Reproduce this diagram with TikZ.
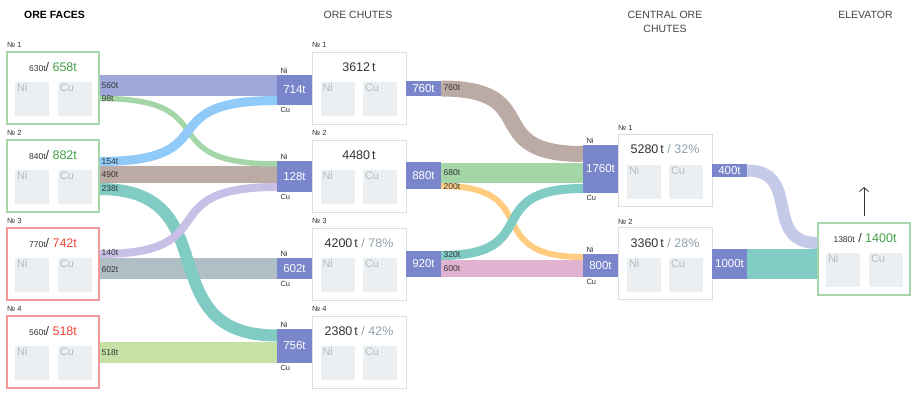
\documentclass[tikz,border=0pt]{standalone}
\usepackage{fontspec}
\setmainfont{Liberation Sans}
\usetikzlibrary{arrows.meta}

\definecolor{ink}{HTML}{333333}
\definecolor{headgray}{HTML}{444444}
\definecolor{gateblue}{HTML}{7986CB}
\definecolor{okline}{HTML}{A5D6A7}
\definecolor{oktext}{HTML}{43A047}
\definecolor{badline}{HTML}{EF9A9A}
\definecolor{badtext}{HTML}{F44336}
\definecolor{boxline}{HTML}{DDDDDD}
\definecolor{cellgray}{HTML}{ECEFF1}
\definecolor{celltext}{HTML}{B0BEC5}
\definecolor{pctgray}{HTML}{90A4AE}
\definecolor{b560}{HTML}{9FA8DA}
\definecolor{b98}{HTML}{A5D6A7}
\definecolor{b154}{HTML}{90CAF9}
\definecolor{b490}{HTML}{BCAAA4}
\definecolor{b238}{HTML}{80CBC4}
\definecolor{b140}{HTML}{C8BFE7}
\definecolor{b602}{HTML}{B0BEC5}
\definecolor{b518}{HTML}{C5E1A5}
\definecolor{b200}{HTML}{FFCC80}
\definecolor{b600}{HTML}{E1B3D1}
\definecolor{b400}{HTML}{C5CAE9}

\newcommand{\pxfont}[1]{\fontsize{#1}{#1}\selectfont}

\tikzset{
  head/.style={font=\fontsize{10.5}{14}\selectfont, text=headgray, align=center, inner sep=0pt},
  facebox/.style={draw=#1, line width=1.5pt, minimum width=92pt, minimum height=72pt, inner sep=0pt},
  chutebox/.style={draw=boxline, line width=0.8pt, minimum width=94pt, minimum height=72pt, inner sep=0pt},
  boxno/.style={anchor=west, font=\pxfont{7.5}, text=ink, inner sep=0pt},
  total/.style={font=\pxfont{12.5}, text=ink, inner sep=0pt},
  cell/.style={fill=cellgray, minimum width=34pt, minimum height=34pt, inner sep=0pt,
    label={[anchor=north west, inner sep=2pt, text=celltext, font=\pxfont{11}]north west:#1}},
  gate/.style={fill=gateblue, text=white, font=\pxfont{11.5}, minimum width=35pt, minimum height=#1, inner sep=0pt},
  side/.style={font=\pxfont{7.5}, text=ink, inner sep=1.5pt, xshift=2pt},
  inlet/.style={gate=#1, label={[side, anchor=south west]north west:Ni}, label={[side, anchor=north west]south west:Cu}},
  band/.style={line width=#1},
  flowlab/.style={anchor=west, font=\pxfont{8.5}, text=ink, inner sep=0pt}
}

\begin{document}
\begin{tikzpicture}[x=1pt,y=-1pt]
\useasboundingbox (0,0) rectangle (916,396);
\fill[white] (0,0) rectangle (916,396);

% column heads
\node[head, text=black, font=\bfseries\pxfont{10.5}] (hfaces) at (54.5,15) {ORE FACES};
\node[head] (hchutes) at (358,15) {ORE CHUTES};
\node[head] (hcentral) at (665,22) {CENTRAL ORE\\CHUTES};
\node[head] (helev) at (865.5,15) {ELEVATOR};

% ore faces
\node[facebox=okline] (f1) at (53,88) {};
\node[boxno] (f1no) at (7,45) {№ 1};
\node[total] (f1sum) at (53,67) {{\pxfont{8.5}630t}/ {\color{oktext}658t}};
\node[cell=Ni] (f1ni) at (32,99) {};
\node[cell=Cu] (f1cu) at (75,99) {};

\node[facebox=okline] (f2) at (53,176) {};
\node[boxno] (f2no) at (7,133) {№ 2};
\node[total] (f2sum) at (53,155) {{\pxfont{8.5}840t}/ {\color{oktext}882t}};
\node[cell=Ni] (f2ni) at (32,187) {};
\node[cell=Cu] (f2cu) at (75,187) {};

\node[facebox=badline] (f3) at (53,264) {};
\node[boxno] (f3no) at (7,221) {№ 3};
\node[total] (f3sum) at (53,243) {{\pxfont{8.5}770t}/ {\color{badtext}742t}};
\node[cell=Ni] (f3ni) at (32,275) {};
\node[cell=Cu] (f3cu) at (75,275) {};

\node[facebox=badline] (f4) at (53,352) {};
\node[boxno] (f4no) at (7,309) {№ 4};
\node[total] (f4sum) at (53,331) {{\pxfont{8.5}560t}/ {\color{badtext}518t}};
\node[cell=Ni] (f4ni) at (32,363) {};
\node[cell=Cu] (f4cu) at (75,363) {};

% ore chutes
\node[chutebox] (c1) at (359,88) {};
\node[boxno] (c1no) at (312,45) {№ 1};
\node[total] (c1sum) at (359,67) {3612\,t};
\node[cell=Ni] (c1ni) at (337.5,99) {};
\node[cell=Cu] (c1cu) at (380,99) {};

\node[chutebox] (c2) at (359,176) {};
\node[boxno] (c2no) at (312,133) {№ 2};
\node[total] (c2sum) at (359,155) {4480\,t};
\node[cell=Ni] (c2ni) at (337.5,187) {};
\node[cell=Cu] (c2cu) at (380,187) {};

\node[chutebox] (c3) at (359,264) {};
\node[boxno] (c3no) at (312,221) {№ 3};
\node[total] (c3sum) at (359,243) {4200\,t {\color{pctgray}/ 78\%}};
\node[cell=Ni] (c3ni) at (337.5,275) {};
\node[cell=Cu] (c3cu) at (380,275) {};

\node[chutebox] (c4) at (359,352) {};
\node[boxno] (c4no) at (312,309) {№ 4};
\node[total] (c4sum) at (359,331) {2380\,t {\color{pctgray}/ 42\%}};
\node[cell=Ni] (c4ni) at (337.5,363) {};
\node[cell=Cu] (c4cu) at (380,363) {};

% central ore chutes
\node[chutebox] (n1) at (665,170) {};
\node[boxno] (n1no) at (618,128) {№ 1};
\node[total] (n1sum) at (665,149) {5280\,t {\color{pctgray}/ 32\%}};
\node[cell=Ni] (n1ni) at (644,182) {};
\node[cell=Cu] (n1cu) at (686,182) {};

\node[chutebox] (n2) at (665,263.5) {};
\node[boxno] (n2no) at (618,222) {№ 2};
\node[total] (n2sum) at (665,243) {3360\,t {\color{pctgray}/ 28\%}};
\node[cell=Ni] (n2ni) at (644,275) {};
\node[cell=Cu] (n2cu) at (686,275) {};

% elevator
\node[facebox=okline] (elev) at (864,259) {};
\node[total] (elevsum) at (865,238) {{\pxfont{8.5}1380t} / {\color{oktext}1400t}};
\node[cell=Ni] (elevni) at (843,270) {};
\node[cell=Cu] (elevcu) at (886,270) {};
\coordinate (lift) at (864,187);
\draw[ink, line width=0.8pt, -{Straight Barb[length=4pt,width=9pt]}] ([yshift=6pt]elev.north) -- (elev.north |- lift);

% gates
\node[inlet=30pt] (g714) at (294.5,90) {714t};
\node[inlet=31pt] (g128) at (294.5,176.5) {128t};
\node[inlet=21pt] (g602) at (294.5,268.5) {602t};
\node[inlet=34pt] (g756) at (294.5,346) {756t};
\node[gate=15pt] (o760) at (423.5,88.5) {760t};
\node[gate=27pt] (o880) at (423.5,175.5) {880t};
\node[gate=26pt] (o920) at (423.5,264) {920t};
\node[inlet=48pt] (g1760) at (600.5,169) {1760t};
\node[inlet=23pt] (g800) at (600.5,265.5) {800t};
\node[gate=13pt] (o400) at (729.5,170.5) {400t};
\node[gate=30pt] (o1000) at (729.5,264) {1000t};

% faces to chutes
\draw[band=21pt, b560] (f1.east |- 0,85.5) -- (g714.west |- 0,85.5);
\draw[band=17pt, b490] (f2.east |- 0,174.5) -- (g128.west |- 0,174.5);
\draw[band=21pt, b602] (f3.east |- 0,268.5) -- (g602.west |- 0,268.5);
\draw[band=21pt, b518] (f4.east |- 0,352.5) -- (g756.west |- 0,352.5);
\draw[band=5.5pt, b98] (f1.east |- 0,98.5) .. controls +(130,0) and +(-130,0) .. (g128.west |- 0,164);
\draw[band=9pt, b154] (f2.east |- 0,161.5) .. controls +(130,0) and +(-130,0) .. (g714.west |- 0,100.5);
\draw[band=12pt, b238] (f2.east |- 0,189) .. controls +(130,0) and +(-130,0) .. (g756.west |- 0,335.5);
\draw[band=8pt, b140] (f3.east |- 0,254) .. controls +(130,0) and +(-130,0) .. (g128.west |- 0,187);

% chutes to central chutes
\draw[band=20pt, b98] (o880.east |- 0,173) -- (g1760.west |- 0,173);
\draw[band=17pt, b600] (o920.east |- 0,268.5) -- (g800.west |- 0,268.5);
\draw[band=16pt, b490] (o760.east |- 0,88.5) .. controls +(105,0) and +(-105,0) .. (g1760.west |- 0,154);
\draw[band=6pt, b200] (o880.east |- 0,186) .. controls +(105,0) and +(-105,0) .. (g800.west |- 0,257);
\draw[band=9pt, b238] (o920.east |- 0,255.5) .. controls +(105,0) and +(-105,0) .. (g1760.west |- 0,188.5);

% central chutes to elevator
\draw[band=30pt, b238] (o1000.east |- 0,264) -- (elev.west |- 0,264);
\draw[band=12pt, b400] (o400.east |- 0,170.5) .. controls +(55,0) and +(-55,0) .. (elev.west |- 0,243);

% flow labels
\node[flowlab] (l560) at (101.5,86) {560t};
\node[flowlab] (l98) at (101.5,99) {98t};
\node[flowlab] (l154) at (101.5,162) {154t};
\node[flowlab] (l490) at (101.5,175) {490t};
\node[flowlab] (l238) at (101.5,189) {238t};
\node[flowlab] (l140) at (101.5,253) {140t};
\node[flowlab] (l602) at (101.5,270) {602t};
\node[flowlab] (l518) at (101.5,353) {518t};
\node[flowlab] (l760) at (443.5,88) {760t};
\node[flowlab] (l680) at (443.5,173) {680t};
\node[flowlab] (l200) at (443.5,187) {200t};
\node[flowlab] (l320) at (443.5,255) {320t};
\node[flowlab] (l600) at (443.5,269) {600t};
\end{tikzpicture}
\end{document}
